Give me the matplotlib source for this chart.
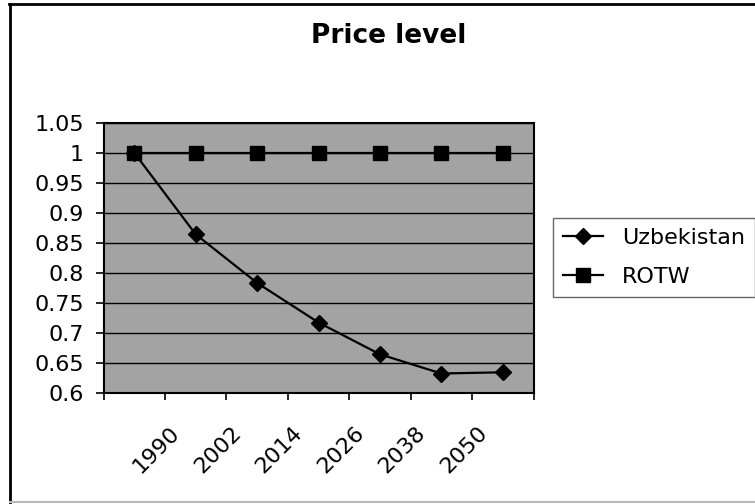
import matplotlib
matplotlib.use("Agg")
import matplotlib.pyplot as plt
from matplotlib.lines import Line2D
from matplotlib.transforms import ScaledTranslation

# Data
categories = ["", "1990", "2002", "2014", "2026", "2038", "2050"]
uzbekistan = [1.0, 0.864, 0.783, 0.717, 0.664, 0.632, 0.634]
rotw = [1.0, 1.0, 1.0, 1.0, 1.0, 1.0, 1.0]
y_ticks = [0.6, 0.65, 0.7, 0.75, 0.8, 0.85, 0.9, 0.95, 1.0, 1.05]
y_tick_labels = ["0.6", "0.65", "0.7", "0.75", "0.8", "0.85", "0.9", "0.95", "1", "1.05"]

plt.rcParams["font.family"] = ["DejaVu Sans"]
FS = 16

W, H = 755, 504
fig = plt.figure(figsize=(W / 100, H / 100), dpi=100)
fig.patch.set_facecolor("white")

left, right, top, bottom = 103.5, 533.5, 122.7, 392.7
ax = fig.add_axes([left / W, 1 - bottom / H, (right - left) / W, (bottom - top) / H])
ax.set_facecolor("#a3a3a3")

x = list(range(len(categories)))
ax.plot(x, uzbekistan, color="black", lw=1.6, marker="D", ms=8,
        mfc="black", mec="black", label="Uzbekistan", zorder=3)
ax.plot(x, rotw, color="black", lw=1.6, marker="s", ms=9.5,
        mfc="black", mec="black", label="ROTW", zorder=3)

ax.set_xlim(-0.5, len(categories) - 0.5)
ax.set_ylim(0.6, 1.05)
ax.set_yticks(y_ticks)
ax.set_yticklabels(y_tick_labels, fontsize=FS)
ax.yaxis.grid(True, color="black", lw=1.0)
ax.set_axisbelow(True)

# Category boundaries carry the tick marks; labels sit under the categories
ax.set_xticks([i - 0.5 for i in range(len(categories) + 1)])
ax.set_xticklabels([])
ax.tick_params(axis="x", direction="out", length=5, width=1.2, color="black")
ax.tick_params(axis="y", direction="out", length=6, width=1.2, color="black", pad=8)

for s in ax.spines.values():
    s.set_color("black")
    s.set_linewidth(1.5)

offset = ScaledTranslation(-26 / 100, -30 / 100, fig.dpi_scale_trans)
for i, lab in enumerate(categories):
    if lab:
        ax.text(i, 0, lab, transform=ax.get_xaxis_transform() + offset,
                rotation=45, rotation_mode="anchor", ha="right", va="top",
                fontsize=FS)

fig.text(389 / W, 1 - 36 / H, "Price level", ha="center", va="center",
         fontsize=19, fontweight="bold")

leg = ax.legend(loc="upper left", bbox_to_anchor=(553 / W, 1 - 218 / H),
                bbox_transform=fig.transFigure, fontsize=FS, frameon=True,
                fancybox=False, shadow=False, handlelength=1.8,
                handletextpad=0.85, borderpad=0.45, labelspacing=0.85,
                borderaxespad=0)
leg.get_frame().set_edgecolor("#404040")
leg.get_frame().set_linewidth(1.0)

# Chart-area frame
fig.add_artist(Line2D([10 / W, 10 / W], [1 - 4 / H, 1 - 502 / H],
                      transform=fig.transFigure, color="black", lw=2))
fig.add_artist(Line2D([9 / W, 1.0], [1 - 4 / H, 1 - 4 / H],
                      transform=fig.transFigure, color="black", lw=2))
fig.add_artist(Line2D([10 / W, 1.0], [1 - 502 / H, 1 - 502 / H],
                      transform=fig.transFigure, color="#b8b8b8", lw=1.5))

fig.savefig("out.png", dpi=100)
